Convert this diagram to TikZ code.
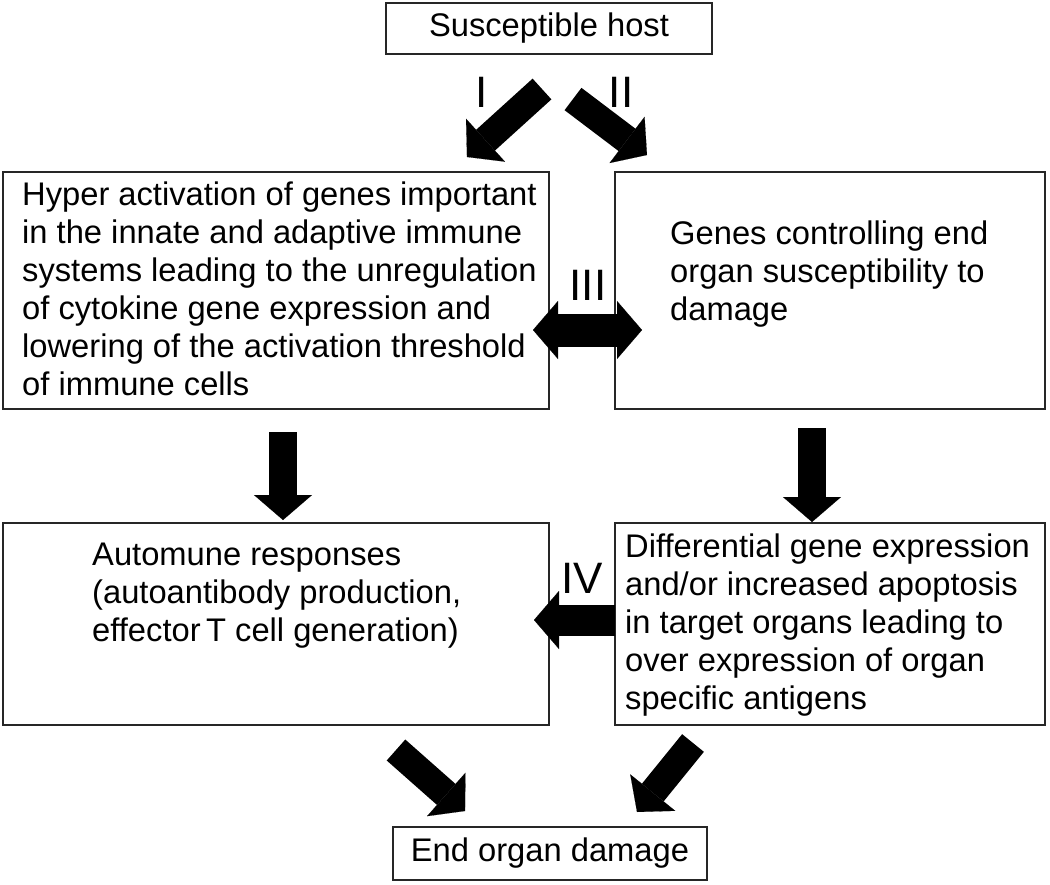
\documentclass[tikz,border=0pt]{standalone}
\usepackage{fontspec}
\setmainfont{Liberation Sans}
\usepackage{tikz}
\usetikzlibrary{arrows.meta}
\tikzstyle{box}=[draw=black!85,line width=2.4pt,inner sep=0pt,font=\fontsize{32.7}{38}\selectfont]
\tikzstyle{txt}=[font=\fontsize{32.7}{38}\selectfont,align=left,inner sep=0pt,anchor=north west]
\tikzstyle{num}=[font=\fontsize{44}{50}\selectfont,inner sep=0pt]
\tikzstyle{fat}=[line width=28pt,>={Triangle[length=25pt,width=58pt,line width=0.1pt]}]

\begin{document}
\begin{tikzpicture}[x=1pt,y=-1pt]
      \useasboundingbox (0,0) rectangle (1050,884);
      \node[box,minimum width=326pt,minimum height=51pt] at (549,28.5) (host) {Susceptible host};
      \node[box,minimum width=546pt,minimum height=237pt] at (276,290.5) (hyper) {};
      \node[box,minimum width=430pt,minimum height=237pt] at (830,290.5) (genes) {};
      \node[box,minimum width=546pt,minimum height=202pt] at (276,624) (auto) {};
      \node[box,minimum width=430pt,minimum height=202pt] at (830,624) (diff) {};
      \node[box,minimum width=314pt,minimum height=53pt] at (550,853.5) (damage) {End organ damage};
      \node[txt] at (22,182) (hypertxt) {Hyper activation of genes important\\in the innate and adaptive immune\\systems leading to the unregulation\\of cytokine gene expression and\\lowering of the activation threshold\\of immune cells};
      \node[txt] at (670,221) (genestxt) {Genes controlling end\\organ susceptibility to\\damage};
      \node[txt] at (92,543) (autotxt) {Automune responses\\(autoantibody production,\\effector\,T cell generation)};
      \node[txt] at (625,534) (difftxt) {Differential gene expression\\and/or increased apoptosis\\in target organs leading to\\over expression of organ\\specific antigens};
      \coordinate (Ia) at (542,89);
      \coordinate (Ib) at (467,157);
      \coordinate (IIa) at (573,99);
      \coordinate (IIb) at (647,155);
      \coordinate (La) at (283,432);
      \coordinate (Lb) at (283,520);
      \coordinate (Ra) at (812,428);
      \coordinate (Rb) at (812,522);
      \coordinate (IIIa) at (533,330);
      \coordinate (IIIb) at (642,330);
      \coordinate (IVa) at (615,620);
      \coordinate (IVb) at (534,620);
      \coordinate (Va) at (396,750);
      \coordinate (Vb) at (465,811);
      \coordinate (VIa) at (693,743);
      \coordinate (VIb) at (637,812);
      \draw[fat,->] (Ia)--(Ib);
      \draw[fat,->] (IIa)--(IIb);
      \draw[fat,->] (La)--(Lb);
      \draw[fat,->] (Ra)--(Rb);
      \draw[fat,<->,line width=33pt] (IIIa)--(IIIb);
      \draw[fat,->,line width=31pt] (IVa)--(IVb);
      \draw[fat,->] (Va)--(Vb);
      \draw[fat,->] (VIa)--(VIb);
      \node[num] at (482,92) (lI) {I};
      \node[num] at (621,92) (lII) {II};
      \node[num] at (588,285) (lIII) {III};
      \node[num] at (582,578) (lIV) {IV};
    \end{tikzpicture}
\end{document}
